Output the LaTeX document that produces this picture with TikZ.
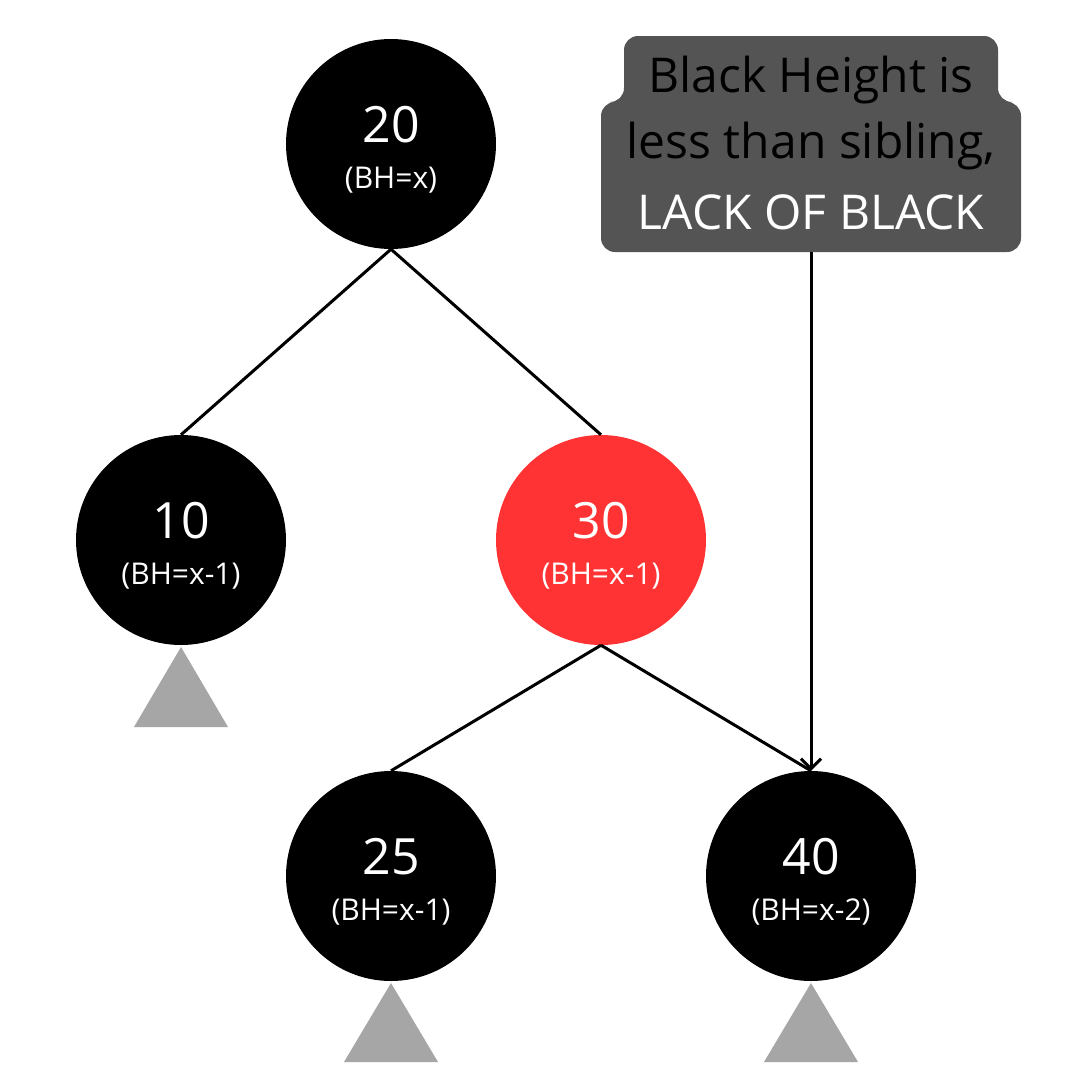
\documentclass[tikz,border=0pt]{standalone}
\usepackage{fontspec}
\setmainfont{Open Sans}
\usetikzlibrary{arrows.meta}
\definecolor{rbred}{HTML}{FF3333}
\definecolor{tri}{HTML}{A6A6A6}
\definecolor{callgray}{HTML}{545454}
\tikzset{
  tnode/.style={circle, minimum size=210pt, inner sep=0pt, fill=black},
  rednode/.style={tnode, fill=rbred},
  keynum/.style={text=white, inner sep=0pt, font=\fontsize{50}{55}\selectfont},
  keybh/.style={text=white, inner sep=0pt, font=\fontsize{30}{34}\selectfont},
  edge/.style={line width=3pt, black},
  leaftri/.style={fill=tri, draw=none},
  callarrow/.style={line width=3pt, -{Straight Barb[length=10pt,width=20pt,line width=3pt]}},
  calltext/.style={font=\fontsize{48}{54}\selectfont, inner sep=0pt}
}
\begin{document}
\begin{tikzpicture}[x=1pt,y=-1pt]
\useasboundingbox (0,0) rectangle (1080,1080);
\fill[white] (0,0) rectangle (1080,1080);
% nodes
\node[tnode] (n20) at (391,144) {};
\node[tnode] (n10) at (181,540) {};
\node[rednode] (n30) at (601,540) {};
\node[tnode] (n25) at (391,876) {};
\node[tnode] (n40) at (811,876) {};
% labels
\node[keynum] (k20) at (391,125) {20};
\node[keybh] (b20) at (391,180) {(BH=x)};
\node[keynum] (k10) at (181,521) {10};
\node[keybh] (b10) at (181,576) {(BH=x-1)};
\node[keynum] (k30) at (601,521) {30};
\node[keybh] (b30) at (601,576) {(BH=x-1)};
\node[keynum] (k25) at (391,857) {25};
\node[keybh] (b25) at (391,912) {(BH=x-1)};
\node[keynum] (k40) at (811,857) {40};
\node[keybh] (b40) at (811,912) {(BH=x-2)};
% edges
\draw[edge] (n20.south) -- (n10.north);
\draw[edge] (n20.south) -- (n30.north);
\draw[edge] (n30.south) -- (n25.north);
\draw[edge] (n30.south) -- (n40.north);
% subtrees
\fill[leaftri] (181,647) -- (228,727) -- (134,727) -- cycle;
\fill[leaftri] (391,983) -- (438,1062) -- (344,1062) -- cycle;
\fill[leaftri] (811,983) -- (858,1062) -- (764,1062) -- cycle;
% callout
\fill[callgray, rounded corners=14pt] (624,36) -- (998,36) -- (998,102) -- (1021,102) -- (1021,252) -- (601,252) -- (601,102) -- (624,102) -- cycle;
\node[calltext, text=black] (t1) at (811,80) {Black Height is};
\node[calltext, text=black] (t2) at (811,146) {less than sibling,};
\node[calltext, text=white] (t3) at (811,212) {LACK OF BLACK};
\coordinate (cb) at (811,252);
\draw[callarrow] (cb) -- (n40.north);
\end{tikzpicture}
\end{document}
